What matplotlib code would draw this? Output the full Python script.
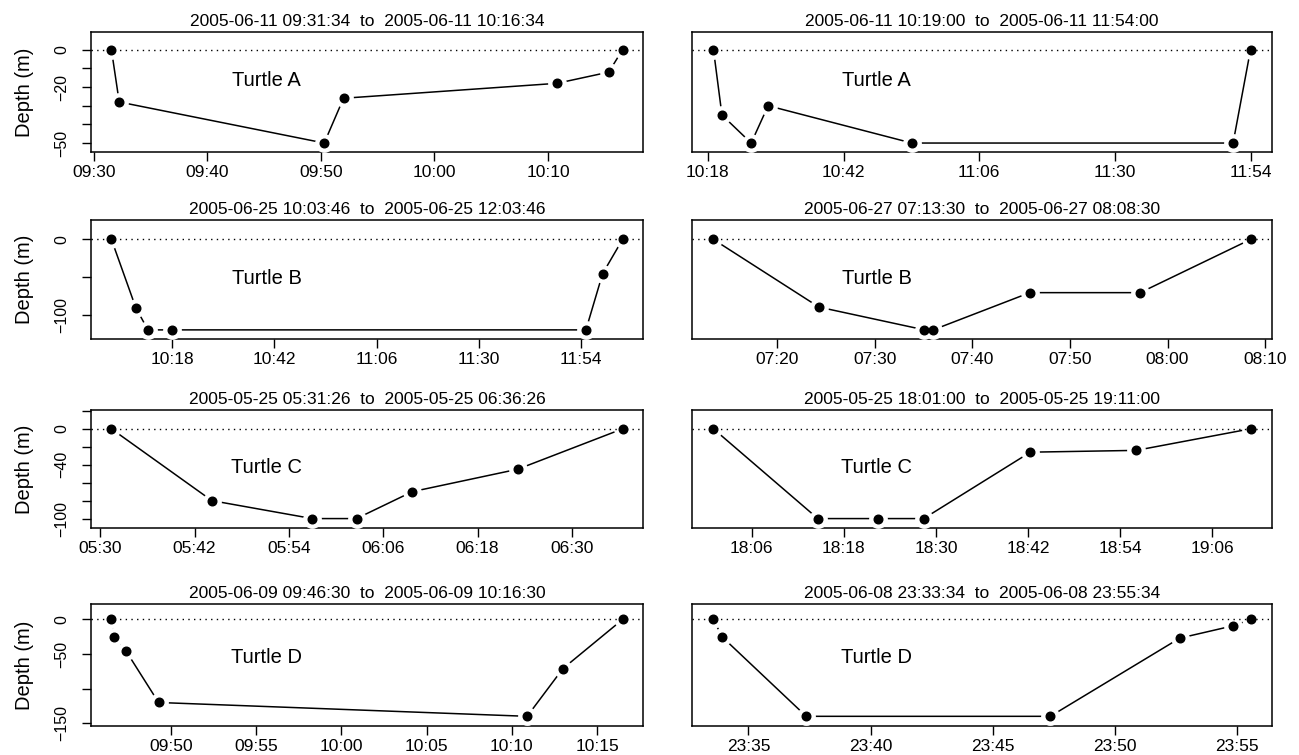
import matplotlib.pyplot as plt
import pandas as pd

plt.rcParams['font.family'] = ['Liberation Sans', 'DejaVu Sans']

# Turtle A, left dive
a1_date = "2005-06-11"
a1_times = ["09:31:34", "09:32:15", "09:50:18", "09:52:00", "10:10:48", "10:15:21", "10:16:34"]
a1_depth = [0, -28, -50, -26, -18, -12, 0]
a1_ticks = ["09:30", "09:40", "09:50", "10:00", "10:10"]

# Turtle A, right dive
a2_date = "2005-06-11"
a2_times = ["10:19:00", "10:20:30", "10:25:40", "10:28:40", "10:54:05", "11:50:55", "11:54:00"]
a2_depth = [0, -35, -50, -30, -50, -50, 0]
a2_ticks = ["10:18", "10:42", "11:06", "11:30", "11:54"]

# Turtle B
b1_date = "2005-06-25"
b1_times = ["10:03:46", "10:09:30", "10:12:20", "10:18:00", "11:55:10", "11:59:05", "12:03:46"]
b1_depth = [0, -90, -119, -119, -119, -45, 0]
b1_ticks = ["10:18", "10:42", "11:06", "11:30", "11:54"]

b2_date = "2005-06-27"
b2_times = ["07:13:30", "07:24:18", "07:35:06", "07:36:00", "07:45:54", "07:57:12", "08:08:30"]
b2_depth = [0, -89, -119, -119, -70, -70, 0]
b2_ticks = ["07:20", "07:30", "07:40", "07:50", "08:00", "08:10"]

# Turtle C
c1_date = "2005-05-25"
c1_times = ["05:31:26", "05:44:12", "05:56:58", "06:02:36", "06:09:42", "06:23:06", "06:36:26"]
c1_depth = [0, -80, -100, -100, -70, -45, 0]
c1_ticks = ["05:30", "05:42", "05:54", "06:06", "06:18", "06:30"]

c2_date = "2005-05-25"
c2_times = ["18:01:00", "18:14:36", "18:22:24", "18:28:24", "18:42:18", "18:56:06", "19:11:00"]
c2_depth = [0, -100, -100, -100, -26, -24, 0]
c2_ticks = ["18:06", "18:18", "18:30", "18:42", "18:54", "19:06"]

# Turtle D
d1_date = "2005-06-09"
d1_times = ["09:46:30", "09:46:40", "09:47:22", "09:49:16", "10:10:54", "10:13:00", "10:16:30"]
d1_depth = [0, -25, -46, -120, -140, -71, 0]
d1_ticks = ["09:50", "09:55", "10:00", "10:05", "10:10", "10:15"]

d2_date = "2005-06-08"
d2_times = ["23:33:34", "23:33:55", "23:37:22", "23:47:22", "23:52:40", "23:54:52", "23:55:34"]
d2_depth = [0, -25, -140, -140, -27, -9, 0]
d2_ticks = ["23:35", "23:40", "23:45", "23:50", "23:55"]

turtles = ["A", "B", "C", "D"]
y_ticks = [[0, -10, -20, -30, -40, -50],
           [0, -50, -100],
           [20, 0, -20, -40, -60, -80, -100],
           [0, -50, -100, -150]]
y_ticklabels = [["0", "", "\u221220", "", "", "\u221250"],
                ["0", "", "\u2212100"],
                ["", "0", "", "\u221240", "", "", "\u2212100"],
                ["0", "\u221250", "", "\u2212150"]]
y_limits = [(-54.8, 9.5), (-131, 25.6), (-110.5, 21), (-154, 22.4)]

dives = [
    [(a1_date, a1_times, a1_depth, a1_ticks), (a2_date, a2_times, a2_depth, a2_ticks)],
    [(b1_date, b1_times, b1_depth, b1_ticks), (b2_date, b2_times, b2_depth, b2_ticks)],
    [(c1_date, c1_times, c1_depth, c1_ticks), (c2_date, c2_times, c2_depth, c2_ticks)],
    [(d1_date, d1_times, d1_depth, d1_ticks), (d2_date, d2_times, d2_depth, d2_ticks)],
]

W, H = 1299, 755
fig = plt.figure(figsize=(W / 100, H / 100), dpi=100)

# panel boxes in pixels: (top, bottom) for rows, (left, right) for columns
rows_px = [(32, 152), (220, 339), (410, 528), (604, 726)]
cols_px = [(91, 643), (692, 1272)]
label_y = [0.60, 0.51, 0.51, 0.565]

for r, row in enumerate(dives):
    top, bot = rows_px[r]
    for c, (date, times, depth, ticks) in enumerate(row):
        left, right = cols_px[c]
        ax = fig.add_axes([left / W, 1 - bot / H, (right - left) / W, (bot - top) / H])
        t = pd.to_datetime([date + " " + s for s in times])

        ax.plot(t, depth, color='black', lw=1.1, zorder=2)
        # white halo so the lines stop short of the points, like R type="b"
        ax.plot(t, depth, 'o', ms=12.5, color='white', zorder=3)
        ax.axhline(0, color='black', lw=1, ls=(0, (1, 3.1)), zorder=3.5)
        ax.plot(t, depth, 'o', ms=6.2, color='black', zorder=4)

        ax.margins(x=0.04)
        ax.set_ylim(*y_limits[r])

        tick_pos = pd.to_datetime([date + " " + s for s in ticks])
        ax.set_xticks(tick_pos)
        ax.set_xticklabels(ticks)
        ax.tick_params(axis='x', length=6.2, width=1, pad=3, labelsize=12.5)

        if c == 0:
            ax.set_yticks(y_ticks[r])
            ax.set_yticklabels(y_ticklabels[r])
            ax.tick_params(axis='y', length=6.5, width=1, pad=9, labelsize=11.5, labelrotation=90)
            for lab in ax.get_yticklabels():
                lab.set_va('center')
            fig.text(25 / W, 1 - (top + bot) / 2 / H, "Depth (m)", rotation=90,
                     ha='center', va='center', fontsize=14.5)
        else:
            ax.set_yticks([])

        for sp in ax.spines.values():
            sp.set_linewidth(1.1)

        ax.set_title(f"{date} {times[0]}  to  {date} {times[-1]}", fontsize=12.5, pad=4)
        ax.text(0.318, label_y[r], "Turtle " + turtles[r], transform=ax.transAxes,
                ha='center', va='center', fontsize=14.5)

fig.savefig("out.png", dpi=100)
